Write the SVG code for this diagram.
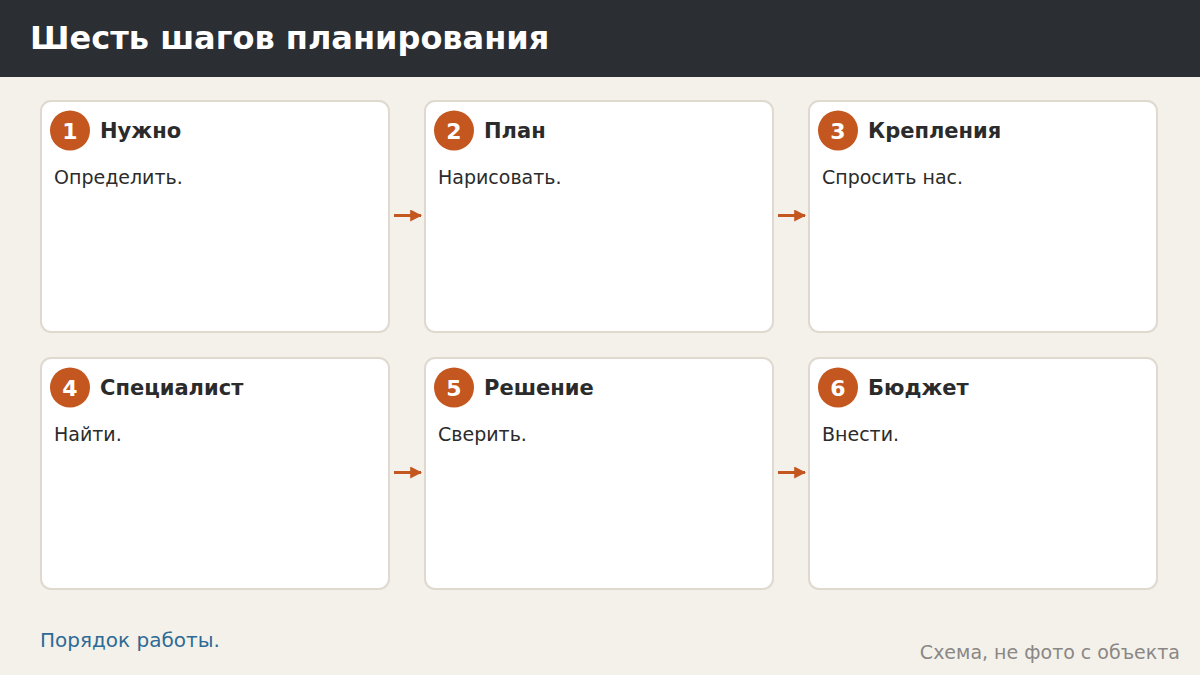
<svg xmlns="http://www.w3.org/2000/svg" width="1200" height="675" viewBox="0 0 1200 675">
<defs>
<style>
.card{fill:#ffffff;stroke:#dfd9cf;stroke-width:2}
.badge{fill:#c4561f}
.num{font-family:"DejaVu Sans",sans-serif;font-weight:bold;font-size:22px;fill:#ffffff;text-anchor:middle}
.ttl{font-family:"DejaVu Sans",sans-serif;font-weight:bold;font-size:21px;fill:#2b2b2b}
.body{font-family:"DejaVu Sans",sans-serif;font-size:19px;fill:#2b2b2b}
.conn{stroke:#c4561f;stroke-width:3;fill:none}
</style>
<marker id="ah" viewBox="0 0 10 10" refX="9" refY="5" markerWidth="4" markerHeight="4" orient="auto" markerUnits="strokeWidth">
<path d="M0,0 L10,5 L0,10 z" fill="#c4561f"/>
</marker>
</defs>
<rect width="1200" height="675" fill="#f4f1eb"/>
<rect width="1200" height="77" fill="#2b2e33"/>
<text x="30" y="49" font-family="DejaVu Sans, sans-serif" font-weight="bold" font-size="32" fill="#ffffff">Шесть шагов планирования</text>

<g id="connectors">
<line class="conn" x1="394" y1="215.5" x2="421" y2="215.5" marker-end="url(#ah)"/>
<line class="conn" x1="778" y1="215.5" x2="805" y2="215.5" marker-end="url(#ah)"/>
<line class="conn" x1="394" y1="472.5" x2="421" y2="472.5" marker-end="url(#ah)"/>
<line class="conn" x1="778" y1="472.5" x2="805" y2="472.5" marker-end="url(#ah)"/>
</g>

<g id="step1">
<rect class="card" x="41" y="101" width="348" height="231" rx="10"/>
<circle class="badge" cx="70" cy="130.5" r="20"/>
<text class="num" x="70" y="138.5">1</text>
<text class="ttl" x="100" y="138">Нужно</text>
<text class="body" x="54" y="184">Определить.</text>
</g>
<g id="step2">
<rect class="card" x="425" y="101" width="348" height="231" rx="10"/>
<circle class="badge" cx="454" cy="130.5" r="20"/>
<text class="num" x="454" y="138.5">2</text>
<text class="ttl" x="484" y="138">План</text>
<text class="body" x="438" y="184">Нарисовать.</text>
</g>
<g id="step3">
<rect class="card" x="809" y="101" width="348" height="231" rx="10"/>
<circle class="badge" cx="838" cy="130.5" r="20"/>
<text class="num" x="838" y="138.5">3</text>
<text class="ttl" x="868" y="138">Крепления</text>
<text class="body" x="822" y="184">Спросить нас.</text>
</g>
<g id="step4">
<rect class="card" x="41" y="358" width="348" height="231" rx="10"/>
<circle class="badge" cx="70" cy="387.5" r="20"/>
<text class="num" x="70" y="395.5">4</text>
<text class="ttl" x="100" y="395">Специалист</text>
<text class="body" x="54" y="441">Найти.</text>
</g>
<g id="step5">
<rect class="card" x="425" y="358" width="348" height="231" rx="10"/>
<circle class="badge" cx="454" cy="387.5" r="20"/>
<text class="num" x="454" y="395.5">5</text>
<text class="ttl" x="484" y="395">Решение</text>
<text class="body" x="438" y="441">Сверить.</text>
</g>
<g id="step6">
<rect class="card" x="809" y="358" width="348" height="231" rx="10"/>
<circle class="badge" cx="838" cy="387.5" r="20"/>
<text class="num" x="838" y="395.5">6</text>
<text class="ttl" x="868" y="395">Бюджет</text>
<text class="body" x="822" y="441">Внести.</text>
</g>

<text x="40" y="647" font-family="DejaVu Sans, sans-serif" font-size="20" fill="#2e6a94">Порядок работы.</text>
<text x="1180" y="659" text-anchor="end" font-family="DejaVu Sans, sans-serif" font-size="19" fill="#8a8784">Схема, не фото с объекта</text>
</svg>
